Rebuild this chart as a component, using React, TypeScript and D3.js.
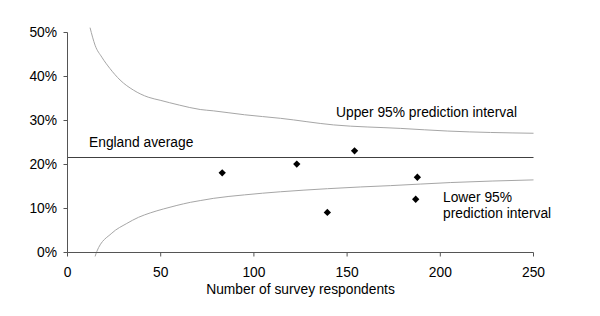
import React from "react";
import * as d3 from "d3";

const xTicks = [0, 50, 100, 150, 200, 250];
const yTicks = [0, 0.1, 0.2, 0.3, 0.4, 0.5];
const englandAverage = 0.216;

const upperN = [12.1, 14.8, 18.4, 22.8, 28.2, 35.4, 43.3, 49.7, 60, 71.2, 78.2, 95, 114.2, 142.7, 178.8, 204, 250];
const upperP = [0.511, 0.471, 0.444, 0.418, 0.392, 0.369, 0.353, 0.346, 0.335, 0.325, 0.322, 0.313, 0.305, 0.29, 0.282, 0.276, 0.271];

const lowerN = [14.8, 15.7, 23.8, 31.8, 38.1, 44.4, 51.5, 58.7, 65.9, 71.2, 78.2, 95, 114.2, 139.5, 157.3, 173.4, 205.6, 250];
const lowerP = [-0.009, 0.002, 0.044, 0.066, 0.08, 0.09, 0.099, 0.107, 0.114, 0.118, 0.123, 0.131, 0.138, 0.145, 0.149, 0.152, 0.159, 0.165];

const pointN = [83, 123, 139.4, 154, 186.8, 187.7];
const pointP = [0.181, 0.201, 0.091, 0.231, 0.121, 0.171];

const FONT = "'Liberation Sans', Arial, sans-serif";
const FS = 13.8;

export default function App() {
  const W = 600;
  const H = 316;
  const x = d3.scaleLinear().domain([0, 250]).range([67.5, 533.5]);
  const y = d3.scaleLinear().domain([0, 0.5]).range([252.5, 32.5]);

  const line = d3
    .line<[number, number]>()
    .x((d) => x(d[0]))
    .y((d) => y(d[1]))
    .curve(d3.curveMonotoneX);

  const upper = line(upperN.map((n, i) => [n, upperP[i]] as [number, number])) || "";
  const lower = line(lowerN.map((n, i) => [n, lowerP[i]] as [number, number])) || "";
  const diamond = d3.symbol(d3.symbolDiamond2, 34)() || "";

  const axisColor = "#555";
  const curveColor = "#a6a6a6";

  return (
    <svg
      width={W}
      height={H}
      style={{ position: "absolute", left: 0, top: 0, background: "#fff" }}
      fontFamily={FONT}
      fontSize={FS}
    >
      {/* curves */}
      <path d={upper} fill="none" stroke={curveColor} strokeWidth={1} />
      <path d={lower} fill="none" stroke={curveColor} strokeWidth={1} />

      {/* England average */}
      <line
        x1={x(0)}
        x2={x(250)}
        y1={Math.round(y(englandAverage)) + 0.5}
        y2={Math.round(y(englandAverage)) + 0.5}
        stroke="#404040"
        strokeWidth={1.2}
      />

      {/* y axis */}
      <line x1={x(0)} x2={x(0)} y1={y(0.5)} y2={y(0)} stroke={axisColor} />
      {yTicks.map((t) => (
        <g key={"y" + t}>
          <line x1={x(0) - 4} x2={x(0)} y1={y(t)} y2={y(t)} stroke={axisColor} />
          <text x={57} y={y(t)} dy="0.36em" textAnchor="end" fill="#000">
            {d3.format(".0%")(t)}
          </text>
        </g>
      ))}

      {/* x axis */}
      <line x1={x(0)} x2={x(250)} y1={y(0)} y2={y(0)} stroke={axisColor} />
      {xTicks.map((t) => (
        <g key={"x" + t}>
          <line x1={x(t)} x2={x(t)} y1={y(0)} y2={y(0) + 4} stroke={axisColor} />
          <text x={x(t)} y={277} textAnchor="middle" fill="#000">
            {t}
          </text>
        </g>
      ))}
      <text x={(x(0) + x(250)) / 2} y={294} textAnchor="middle" fill="#000">
        Number of survey respondents
      </text>

      {/* points */}
      {pointN.map((n, i) => (
        <path key={"p" + i} d={diamond} transform={`translate(${x(n)},${y(pointP[i])})`} fill="#000" />
      ))}

      {/* labels */}
      <text x={89} y={146.5} fill="#000">England average</text>
      <text x={336} y={116.5} fill="#000">Upper 95% prediction interval</text>
      <text x={443} y={201.5} fill="#000">Lower 95%</text>
      <text x={443} y={217.5} fill="#000">prediction interval</text>
    </svg>
  );
}
